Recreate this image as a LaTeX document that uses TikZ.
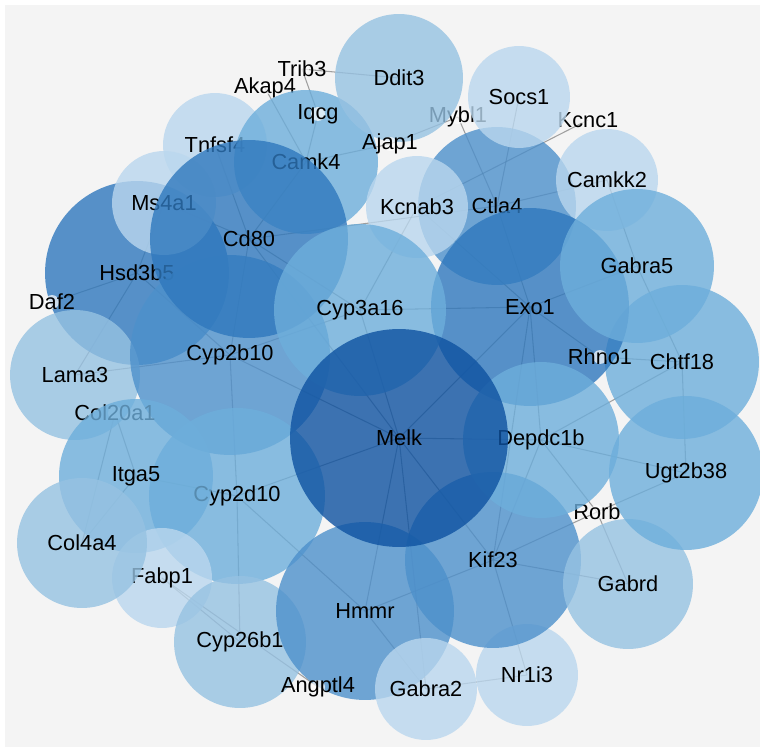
\documentclass[tikz,border=0pt]{standalone}
\usepackage{fontspec}
\setmainfont{Liberation Sans}
\usetikzlibrary{backgrounds}

\definecolor{bgrey}{HTML}{F4F4F4}
\definecolor{b1}{HTML}{BAD7EE}
\definecolor{b2}{HTML}{96C2E2}
\definecolor{b3}{HTML}{6DAEDB}
\definecolor{b4}{HTML}{4D90CB}
\definecolor{b5}{HTML}{2F78BD}
\definecolor{b6}{HTML}{0E52A1}

\begin{document}
\begin{tikzpicture}[x=0.02cm, y=-0.02cm,
      every node/.style={font=\fontsize{12.4}{14}\selectfont},
      every label/.style={text opacity=1, inner sep=0pt},
      gene/.style 2 args={circle, inner sep=0pt, fill=#1, fill opacity=0.8,
        minimum size={0.04cm*#2}},
      dot/.style={circle, inner sep=0pt, fill=white, fill opacity=0.7,
        minimum size=0.28cm},
      link/.style={draw=black!65, opacity=0.55, line width=0.6pt}]
    \useasboundingbox (0,0) rectangle (760,749);
    % nodes, in drawing order
    \node[gene={b1}{52}, label=center:Tnfsf4] (tnfsf4) at (215,145) {};
    \node[dot, label=center:Akap4] (akap4) at (265,88) {};
    \node[gene={b3}{72}, label=center:Camk4] (camk4) at (306,162) {};
    \node[dot, label=center:Iqcg] (iqcg) at (318,114) {};
    \node[dot, label=center:Trib3] (trib3) at (302,69) {};
    \node[gene={b4}{79}, label=center:Ctla4] (ctla4) at (497,206) {};
    \node[gene={b1}{51}, label=center:Camkk2] (camkk2) at (607,180) {};
    \node[dot, label=center:Kcnc1] (kcnc1) at (588,120) {};
    \node[dot, label=center:Mybl1] (mybl1) at (458,117) {};
    \node[gene={b2}{64}, label=center:Ddit3] (ddit3) at (399,78) {};
    \node[gene={b1}{51}, label=center:Socs1] (socs1) at (519,97) {};
    \node[dot, label=center:Ajap1] (ajap1) at (390,144) {};
    \node[gene={b5}{92}, label=center:Hsd3b5] (hsd3b5) at (137,273) {};
    \node[gene={b1}{52}, label=center:Ms4a1] (ms4a1) at (164,203) {};
    \node[gene={b2}{65}, label=center:Lama3] (lama3) at (75,375) {};
    \node[dot, label=center:Daf2] (daf2) at (52,302) {};
    \node[gene={b4}{100}, label=center:Cyp2b10] (cyp2b10) at (230,355) {};
    \node[dot, label=center:Col20a1] (col20a1) at (115,413) {};
    \node[gene={b3}{88}, label=center:Cyp2d10] (cyp2d10) at (237,496) {};
    \node[gene={b3}{77}, label=center:Itga5] (itga5) at (136,476) {};
    \node[gene={b1}{50}, label=center:Fabp1] (fabp1) at (162,578) {};
    \node[gene={b2}{65}, label=center:Col4a4] (col4a4) at (82,543) {};
    \node[gene={b2}{66}, label=center:Cyp26b1] (cyp26b1) at (240,642) {};
    \node[gene={b4}{89}, label=center:Hmmr] (hmmr) at (365,611) {};
    \node[dot, label=center:Angptl4] (angptl4) at (318,687) {};
    \node[gene={b1}{51}, label=center:Gabra2] (gabra2) at (426,689) {};
    \node[gene={b1}{51}, label=center:Nr1i3] (nr1i3) at (527,675) {};
    \node[gene={b4}{88}, label=center:Kif23] (kif23) at (493,560) {};
    \node[gene={b2}{65}, label=center:Gabrd] (gabrd) at (628,584) {};
    \node[gene={b3}{77}, label=center:Ugt2b38] (ugt2b38) at (686,473) {};
    \node[dot, label=center:Rorb] (rorb) at (597,512) {};
    \node[gene={b3}{77}, label=center:Chtf18] (chtf18) at (682,362) {};
    \node[gene={b1}{51}, label=center:Kcnab3] (kcnab3) at (417,207) {};
    \node[gene={b5}{99}, label=center:Exo1] (exo1) at (530,307) {};
    \node[gene={b3}{77}, label=center:Gabra5] (gabra5) at (637,266) {};
    \node[gene={b3}{78}, label=center:Depdc1b] (depdc1b) at (541,440) {};
    \node[dot, label=center:Rhno1] (rhno1) at (600,357) {};
    \node[gene={b5}{99}, label=center:Cd80] (cd80) at (249,239) {};
    \node[gene={b3}{86}, label=center:Cyp3a16] (cyp3a16) at (360,310) {};
    \node[gene={b6}{109}, label=center:Melk] (melk) at (399,438) {};
    \begin{pgfonlayer}{background}
      \fill[white] (0,0) rectangle (760,749);
      \fill[bgrey] (5,5) rectangle (760,747);
      \foreach \a/\b in {trib3/ddit3, trib3/iqcg, iqcg/camk4, akap4/camk4,
          ajap1/mybl1, ajap1/camk4, mybl1/ctla4, kcnc1/kcnab3, socs1/ctla4,
          camkk2/ctla4, camkk2/gabra5, ctla4/exo1, ctla4/cd80, kcnab3/cyp3a16,
          kcnab3/exo1, cyp3a16/cd80, cyp3a16/melk, cyp3a16/exo1,
          cyp3a16/cyp2b10, camk4/cd80, tnfsf4/cd80, ms4a1/cd80, ms4a1/hsd3b5,
          daf2/hsd3b5, hsd3b5/lama3, hsd3b5/cyp2b10, cd80/cyp2b10, cd80/melk,
          cyp2b10/melk, cyp2b10/cyp2d10, cyp2b10/lama3, col20a1/itga5,
          col20a1/col4a4, itga5/col4a4, itga5/cyp2d10, fabp1/cyp26b1,
          fabp1/angptl4, cyp2d10/cyp26b1, cyp2d10/hmmr, cyp2d10/melk,
          hmmr/melk, hmmr/kif23, hmmr/gabra2, kif23/melk, kif23/nr1i3,
          kif23/gabrd, kif23/depdc1b, kif23/exo1, gabra2/nr1i3, gabra2/melk,
          gabrd/rorb, rorb/ugt2b38, rorb/depdc1b, rorb/kif23, depdc1b/melk,
          depdc1b/exo1, depdc1b/chtf18, depdc1b/ugt2b38, rhno1/exo1,
          rhno1/chtf18, exo1/melk, exo1/gabra5, chtf18/ugt2b38, chtf18/gabra5}
        \draw[link] (\a.center) -- (\b.center);
    \end{pgfonlayer}
  \end{tikzpicture}
\end{document}
